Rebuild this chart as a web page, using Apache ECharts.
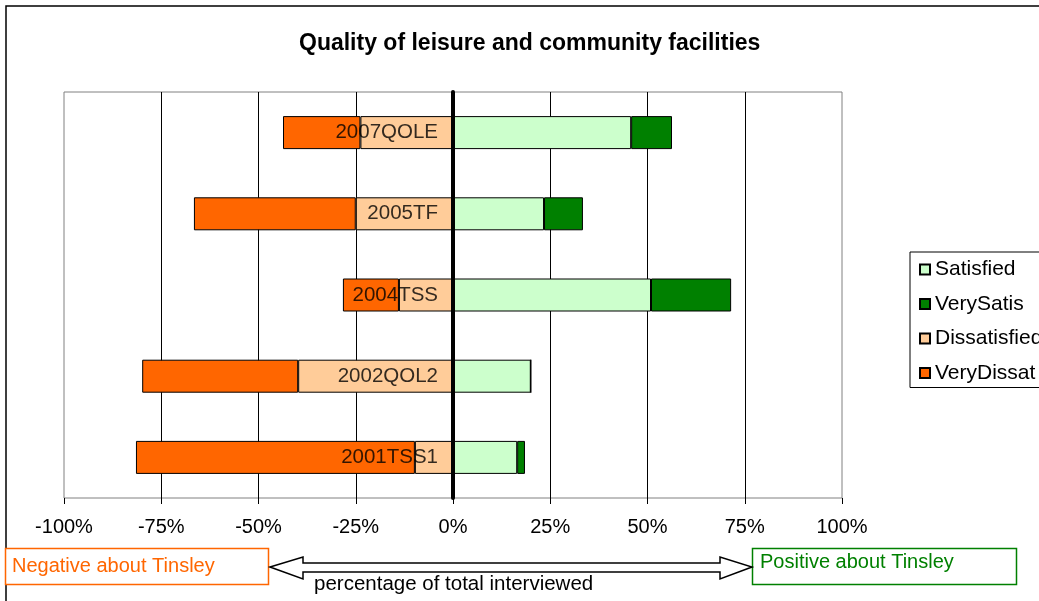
<!DOCTYPE html>
<html>
<head>
<meta charset="utf-8">
<script src="https://cdn.jsdelivr.net/npm/echarts@6/dist/echarts.min.js"></script>
<style>
  html, body { margin: 0; padding: 0; background: #fff; }
  #main { width: 1039px; height: 601px; }
</style>
</head>
<body>
<div id="main"></div>
<script>
// categories, bottom to top
const surveys = ['2001TSS1', '2002QOL2', '2004TSS', '2005TF', '2007QOLE'];
// percentages
const satisfied = [16.5, 20.0, 50.9, 23.4, 45.8];
const verySatis = [2.0, 0, 20.6, 10.0, 10.5];
const dissatisfied = [-9.8, -39.8, -13.9, -25.0, -23.8];
const veryDissat = [-71.7, -40.1, -14.4, -41.6, -19.9];

const FONT = 'Liberation Sans, Arial, sans-serif';

const myChart = echarts.init(document.getElementById('main'));

function barSeries(name, data, color) {
    return {
        name: name,
        type: 'bar',
        stack: 'total',
        data: data,
        barWidth: 33,
        itemStyle: { color: color, borderColor: '#000', borderWidth: 1 }
    };
}

const option = {
    animation: false,
    textStyle: { fontFamily: FONT },
    title: {
        text: 'Quality of leisure and community facilities',
        left: 294,
        top: 27,
        textStyle: { fontFamily: FONT, fontSize: 23, fontWeight: 'bold', color: '#000' }
    },
    legend: {
        orient: 'vertical',
        left: 910,
        top: 252,
        padding: [7, 200, 4, 9],
        itemGap: 13.5,
        itemWidth: 10,
        itemHeight: 10,
        icon: 'rect',
        borderColor: '#000',
        borderWidth: 1,
        textStyle: { fontFamily: FONT, fontSize: 21, color: '#000' },
        data: ['Satisfied', 'VerySatis', 'Dissatisfied', 'VeryDissat']
    },
    grid: {
        left: 64, right: 197, top: 92, bottom: 103,
        containLabel: false,
        outerBoundsMode: 'none',
        show: true,
        borderColor: '#808080',
        borderWidth: 1
    },
    xAxis: {
        type: 'value',
        min: -100,
        max: 100,
        interval: 25,
        axisLine: { lineStyle: { color: '#000', width: 1 } },
        axisTick: { show: true, length: 6, lineStyle: { color: '#000' } },
        axisLabel: {
            margin: 19,
            fontFamily: FONT, fontSize: 20, color: '#000',
            formatter: v => v + '%'
        },
        splitLine: {
            show: true, showMinLine: false, showMaxLine: false,
            lineStyle: { color: '#000', width: 1 }
        }
    },
    yAxis: {
        type: 'category',
        data: surveys,
        z: 10,
        axisLine: { onZero: true, lineStyle: { color: '#000', width: 4 } },
        axisTick: { show: false },
        axisLabel: { show: false }
    },
    series: [
        barSeries('Satisfied', satisfied, '#CCFFCC'),
        barSeries('VerySatis', verySatis, '#008000'),
        barSeries('Dissatisfied', dissatisfied, '#FFCC99'),
        barSeries('VeryDissat', veryDissat, '#FF6600'),
        {
            // category names drawn next to the zero line
            type: 'scatter',
            z: 5,
            silent: true,
            symbolSize: 0,
            data: surveys.map(s => [0, s]),
            label: {
                show: true,
                position: 'left',
                distance: 15,
                formatter: p => p.value[1],
                fontFamily: FONT, fontSize: 20.5, color: '#000'
            }
        }
    ],
    graphic: [
        // outer frame
        { type: 'rect', shape: { x: 6, y: 6, width: 1100, height: 700 },
          style: { fill: null, stroke: '#000', lineWidth: 1.5 }, silent: true },
        // negative box
        { type: 'rect', shape: { x: 5.5, y: 548.5, width: 263, height: 36 },
          style: { fill: '#fff', stroke: '#FF6600', lineWidth: 1.5 } },
        { type: 'text', left: 12, top: 556,
          style: { text: 'Negative about Tinsley', fill: '#FF6600', font: '20px ' + FONT } },
        // positive box
        { type: 'rect', shape: { x: 752.5, y: 548.5, width: 264, height: 36 },
          style: { fill: '#fff', stroke: '#008000', lineWidth: 1.5 } },
        { type: 'text', left: 760, top: 552,
          style: { text: 'Positive about Tinsley', fill: '#008000', font: '20px ' + FONT } },
        // double arrow
        { type: 'polygon',
          shape: { points: [[270, 567], [303, 557], [303, 563], [720, 563], [720, 557], [752, 567],
                            [720, 579], [720, 572], [303, 572], [303, 579]] },
          style: { fill: '#fff', stroke: '#000', lineWidth: 1.5 } },
        { type: 'text', left: 314, top: 574,
          style: { text: 'percentage of total interviewed', fill: '#000', font: '20.5px ' + FONT } }
    ]
};

myChart.setOption(option);
window.addEventListener('resize', () => { myChart.resize(); });
</script>
</body>
</html>
